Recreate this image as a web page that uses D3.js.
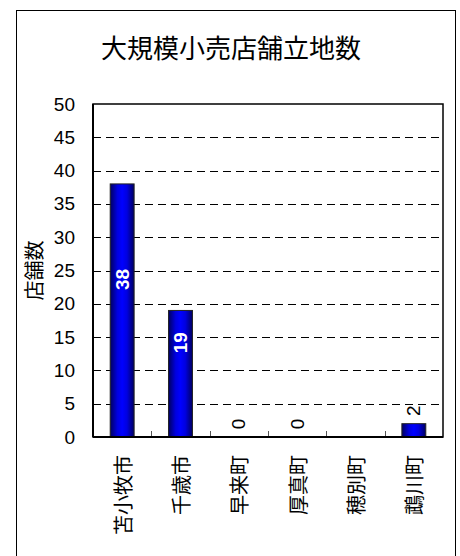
<!DOCTYPE html>
<html>
<head>
<meta charset="utf-8">
<script src="https://cdn.jsdelivr.net/npm/d3@7"></script>
<style>
  body { margin: 0; background: #fff; }
  text { font-family: Arial, "Liberation Sans", sans-serif; }
  .jp { font-family: "Noto Sans CJK JP", sans-serif; }
</style>
</head>
<body>
<div id="chart"></div>
<script>
var chartTitle = "大規模小売店舗立地数";
var yTitle = "店舗数";
var towns = ["苫小牧市", "千歳市", "早来町", "厚真町", "穂別町", "鵡川町"];
var counts = [38, 19, 0, 0, null, 2];
var yTicks = [0, 5, 10, 15, 20, 25, 30, 35, 40, 45, 50];

var W = 460, H = 556;
var margin = {top: 104, right: 17, bottom: 119, left: 93},
    width = W - margin.left - margin.right,
    height = H - margin.top - margin.bottom;

var root = d3.select("#chart")
  .append("svg")
    .attr("width", W)
    .attr("height", H);

// outer frame
root.append("rect")
  .attr("x", 16.5).attr("y", 10.5)
  .attr("width", 439).attr("height", 560)
  .attr("fill", "none")
  .attr("stroke", "#000")
  .attr("stroke-width", 1);

var defs = root.append("defs");
var grad = defs.append("linearGradient")
  .attr("id", "barGrad")
  .attr("x1", "0%").attr("x2", "100%").attr("y1", "0%").attr("y2", "0%");
grad.append("stop").attr("offset", "0%").attr("stop-color", "#000060");
grad.append("stop").attr("offset", "30%").attr("stop-color", "#0000e0");
grad.append("stop").attr("offset", "50%").attr("stop-color", "#0000ff");
grad.append("stop").attr("offset", "70%").attr("stop-color", "#0000e0");
grad.append("stop").attr("offset", "100%").attr("stop-color", "#000060");

root.append("text")
  .attr("class", "jp")
  .attr("x", 231).attr("y", 58)
  .attr("text-anchor", "middle")
  .style("font-size", "26px")
  .text(chartTitle);

var svg = root.append("g")
  .attr("transform", "translate(" + margin.left + "," + margin.top + ")");

var x = d3.scaleBand()
  .domain(towns)
  .range([0, width])
  .paddingInner(0.59)
  .paddingOuter(0.295);

var y = d3.scaleLinear()
  .domain([0, 50])
  .range([height, 0]);

// gridlines
svg.append("g")
  .selectAll("line")
  .data(yTicks.filter(function (d) { return d > 0 && d < 50; }))
  .enter()
  .append("line")
    .attr("x1", 0).attr("x2", width)
    .attr("y1", function (d) { return Math.round(y(d)) + 0.5; })
    .attr("y2", function (d) { return Math.round(y(d)) + 0.5; })
    .attr("stroke", "#000")
    .attr("stroke-dasharray", "8,5");

// plot box
svg.append("rect")
  .attr("x", 0).attr("y", 0)
  .attr("width", width).attr("height", height)
  .attr("fill", "none")
  .attr("stroke", "#000")
  .attr("stroke-width", 1.5);

// category boundary ticks
var bounds = towns.slice(1).map(function (t) { return x(t) - x.step() * x.paddingInner() / 2; });
svg.append("g")
  .selectAll("line")
  .data(bounds)
  .enter()
  .append("line")
    .attr("x1", function (d) { return Math.round(d) + 0.5; })
    .attr("x2", function (d) { return Math.round(d) + 0.5; })
    .attr("y1", height).attr("y2", height - 6)
    .attr("stroke", "#555");

var bars = towns.map(function (t, i) { return {town: t, v: counts[i]}; });

svg.append("g")
  .selectAll("rect")
  .data(bars.filter(function (d) { return d.v > 0; }))
  .enter()
  .append("rect")
    .attr("x", function (d) { return x(d.town); })
    .attr("y", function (d) { return y(d.v); })
    .attr("width", x.bandwidth())
    .attr("height", function (d) { return height - y(d.v); })
    .attr("fill", "url(#barGrad)")
    .attr("stroke", "#222")
    .attr("stroke-width", 1);

// value labels
svg.append("g")
  .selectAll("text")
  .data(bars.filter(function (d) { return d.v !== null; }))
  .enter()
  .append("text")
    .attr("transform", function (d) {
      var cx = x(d.town) + x.bandwidth() / 2;
      var cy = d.v >= 10 ? y(d.v / 2) - 31 : y(d.v) - 13;
      return "translate(" + cx + "," + cy + ") rotate(-90)";
    })
    .attr("text-anchor", "middle")
    .attr("dominant-baseline", "central")
    .style("font-size", "19px")
    .style("font-weight", function (d) { return d.v >= 10 ? "bold" : "normal"; })
    .attr("fill", function (d) { return d.v >= 10 ? "#fff" : "#000"; })
    .text(function (d) { return d.v; });

// axis lines
svg.append("line")
  .attr("x1", 0).attr("x2", width)
  .attr("y1", height).attr("y2", height)
  .attr("stroke", "#000").attr("stroke-width", 2);
svg.append("line")
  .attr("x1", 0).attr("x2", 0)
  .attr("y1", 0).attr("y2", height)
  .attr("stroke", "#000").attr("stroke-width", 2);

// y tick labels
svg.append("g")
  .selectAll("text")
  .data(yTicks)
  .enter()
  .append("text")
    .attr("x", -18)
    .attr("y", function (d) { return y(d); })
    .attr("text-anchor", "end")
    .attr("dominant-baseline", "central")
    .style("font-size", "19px")
    .text(function (d) { return d; });

// x category labels
svg.append("g")
  .selectAll("text")
  .data(towns)
  .enter()
  .append("text")
    .attr("class", "jp")
    .attr("transform", function (d) {
      return "translate(" + (x(d) + x.bandwidth() / 2) + "," + (height + 18) + ") rotate(-90)";
    })
    .attr("text-anchor", "end")
    .attr("dominant-baseline", "central")
    .style("font-size", "20px")
    .text(function (d) { return d; });

// y title
root.append("text")
  .attr("class", "jp")
  .attr("transform", "translate(33," + (margin.top + height / 2) + ") rotate(-90)")
  .attr("text-anchor", "middle")
  .attr("dominant-baseline", "central")
  .style("font-size", "20px")
  .text(yTitle);
</script>
</body>
</html>
